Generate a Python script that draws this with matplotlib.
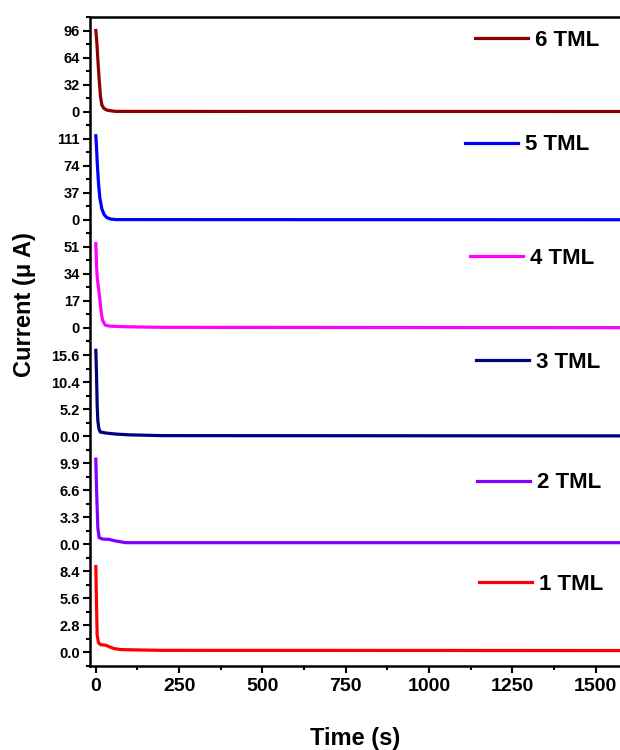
import matplotlib.pyplot as plt
from matplotlib.ticker import MultipleLocator, FormatStrFormatter

plt.rcParams['font.family'] = ['Liberation Sans', 'DejaVu Sans']
plt.rcParams['font.weight'] = 'bold'

# data (time in s, current in uA), top panel first
labels = ['6 TML', '5 TML', '4 TML', '3 TML', '2 TML', '1 TML']
colors = ['#8B0000', '#0000FF', '#FF00FF', '#000080', '#7F00FF', '#FF0000']
steps = [32, 37, 17, 5.2, 3.3, 2.8]

t6 = [0, 3, 6, 10, 14, 18, 24, 32, 45, 60, 1575]
i6 = [96, 82, 62, 38, 18, 8, 4, 2, 1, 0.3, 0.2]
t5 = [0, 2, 4, 8, 12, 18, 25, 33, 45, 60, 1575]
i5 = [115, 100, 80, 50, 30, 15, 7, 3, 1, 0.3, 0.1]
t4 = [0, 2, 4, 8, 12, 16, 20, 28, 40, 80, 200, 1575]
i4 = [53, 40, 32, 25, 18, 10, 5, 1.8, 1.2, 0.8, 0.4, 0.2]
t3 = [0, 2, 4, 6, 9, 13, 30, 60, 100, 200, 1575]
i3 = [16.5, 12, 6, 3, 1.5, 0.8, 0.6, 0.4, 0.25, 0.1, 0.05]
t2 = [0, 2, 4, 6, 10, 20, 40, 60, 90, 1575]
i2 = [10.4, 7, 4.4, 2, 0.8, 0.65, 0.6, 0.4, 0.2, 0.2]
t1 = [0, 2, 4, 8, 15, 30, 40, 55, 75, 100, 200, 1575]
i1 = [8.9, 5, 1.8, 1.0, 0.8, 0.75, 0.6, 0.4, 0.3, 0.28, 0.22, 0.2]

times = [t6, t5, t4, t3, t2, t1]
currents = [i6, i5, i4, i3, i2, i1]

# legend anchor (pixels) for each panel
leg_px = [(475, 40), (465, 145), (470, 258), (476, 362), (477, 483), (479, 584)]

W, H = 620, 750
fig = plt.figure(figsize=(W / 100, H / 100), dpi=100)
left, right, top, bottom = 89.5 / W, 1.0, 1 - 17 / H, 1 - 666 / H
ph = (top - bottom) / 6

axes = []
for k in range(6):
    ax = fig.add_axes([left, top - (k + 1) * ph, right - left, ph])
    axes.append(ax)
    ax.plot(times[k], currents[k], color=colors[k], lw=2.3, label=labels[k])
    s = steps[k]
    ax.set_ylim(-s / 2, 3.5 * s)
    ax.set_xlim(-19, 1573)
    ax.yaxis.set_major_locator(MultipleLocator(s))
    ax.yaxis.set_minor_locator(MultipleLocator(s / 2))
    if s < 10:
        ax.yaxis.set_major_formatter(FormatStrFormatter('%.1f'))
    else:
        ax.yaxis.set_major_formatter(FormatStrFormatter('%d'))
    ax.spines['right'].set_visible(False)
    for sp in ax.spines.values():
        sp.set_linewidth(1.8)
    if k > 0:
        ax.spines['top'].set_visible(False)
    if k < 5:
        ax.spines['bottom'].set_visible(False)
        ax.tick_params(axis='x', which='both', bottom=False, labelbottom=False)
    ax.tick_params(axis='y', which='major', length=5, width=1.5, labelsize=10.5, pad=2)
    ax.tick_params(axis='y', which='minor', length=3, width=1.5)
    ax.tick_params(axis='x', which='major', length=5, width=1.5, labelsize=14, pad=4)
    ax.tick_params(axis='x', which='minor', length=3, width=1.5)
    ax.xaxis.set_major_locator(MultipleLocator(250))
    ax.xaxis.set_minor_locator(MultipleLocator(125))
    for lbl in ax.get_xticklabels() + ax.get_yticklabels():
        lbl.set_fontweight('bold')
    lx, ly = leg_px[k]
    ax.legend(loc='center left', bbox_to_anchor=(lx / W, 1 - ly / H),
              bbox_transform=fig.transFigure, frameon=False, borderpad=0,
              borderaxespad=0, handlelength=2.4, handletextpad=0.3,
              prop={'size': 16, 'weight': 'bold'})

fig.text(25 / W, 1 - 305 / H, 'Current (\u03bc A)', rotation=90, ha='center',
         va='center', fontsize=17, fontweight='bold')
fig.text(355 / W, 1 - 738 / H, 'Time (s)', ha='center', va='center',
         fontsize=17, fontweight='bold')

fig.savefig('out.png', dpi=100)
